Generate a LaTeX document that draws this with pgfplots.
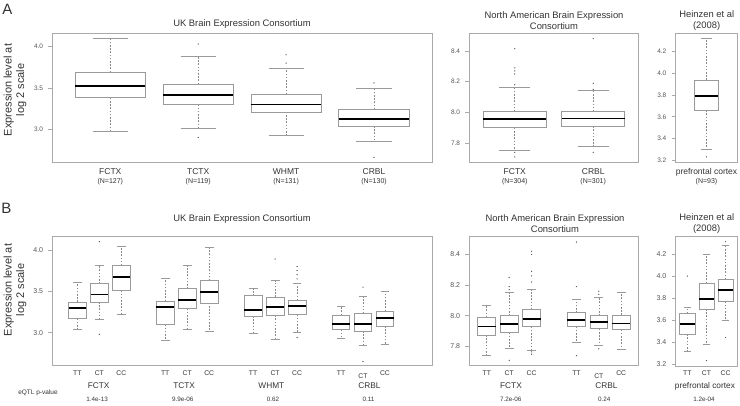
\documentclass[border=0pt]{standalone}
\usepackage{fontspec}
\setmainfont{Liberation Sans}
\usepackage{pgfplots}
\pgfplotsset{compat=1.18}
\usepgfplotslibrary{statistics}
\definecolor{framegray}{HTML}{AAAAAA}
\definecolor{boxgray}{HTML}{9A9A9A}
\definecolor{whiskgray}{HTML}{888888}
\definecolor{dotgray}{HTML}{505050}
\definecolor{txt}{HTML}{333333}
\definecolor{ticktxt}{HTML}{555555}
\newcommand{\fs}[1]{\fontsize{#1}{#1}\selectfont}
\tikzset{pv/.style={anchor=base, font=\fs{6.3}, text=txt, inner sep=0pt}}

\pgfplotsset{
  boxplot/draw/lower whisker/.code={%
    \draw[whiskgray, line width=0.6pt, dash pattern=on 1.6pt off 1.6pt]
      (boxplot box cs:\pgfplotsboxplotvalue{lower quartile},0.5) --
      (boxplot box cs:\pgfplotsboxplotvalue{lower whisker},0.5);
    \draw[boxgray, line width=0.7pt]
      (boxplot whisker cs:\pgfplotsboxplotvalue{lower whisker},0) --
      (boxplot whisker cs:\pgfplotsboxplotvalue{lower whisker},1);
  },
  boxplot/draw/upper whisker/.code={%
    \draw[whiskgray, line width=0.6pt, dash pattern=on 1.6pt off 1.6pt]
      (boxplot box cs:\pgfplotsboxplotvalue{upper quartile},0.5) --
      (boxplot box cs:\pgfplotsboxplotvalue{upper whisker},0.5);
    \draw[boxgray, line width=0.7pt]
      (boxplot whisker cs:\pgfplotsboxplotvalue{upper whisker},0) --
      (boxplot whisker cs:\pgfplotsboxplotvalue{upper whisker},1);
  },
  pan/.style={
    scale only axis, anchor=south west, clip=false,
    axis line style={framegray, line width=0.8pt},
    tick align=outside, major tick length=4pt,
    xtick pos=bottom, ytick pos=left,
    xtick style={draw=none},
    ytick style={framegray, line width=0.6pt},
    yticklabel style={text=ticktxt, inner sep=0pt, xshift=-5pt,
      /pgf/number format/fixed, /pgf/number format/fixed zerofill,
      /pgf/number format/precision=1, /pgf/number format/assume math mode=true},
    xticklabel style={text=txt, anchor=base, inner sep=0pt},
    extra x tick style={tick style={draw=none}},
    boxplot/draw direction=y,
    boxplot/box extend=0.8,
    boxplot/whisker extend=0.4,
    boxplot/every median/.style={black, line width=1.8pt},
  },
  panA/.style={pan, height=129pt,
    yticklabel style={font=\fs{6.5}},
    xticklabel style={font=\fs{8.5}}, xticklabel shift=8.5pt,
    extra x tick style={xticklabel style={font=\fs{7}, yshift=-8.7pt}}},
  panB/.style={pan, height=129pt,
    yticklabel style={font=\fs{7}},
    xticklabel style={font=\fs{6.8}}, xticklabel shift=5.9pt,
    extra x tick style={xticklabel style={font=\fs{8.3}, yshift=-12.9pt}}},
  bx/.style={boxgray, line width=0.7pt, mark=*, mark size=0.45pt,
    mark options={draw=dotgray, fill=dotgray, solid, line width=0.2pt}},
}

\begin{document}
\begin{tikzpicture}
\useasboundingbox (0,0) rectangle (740pt,405pt);

% ---------------- Row A ----------------
\node[font=\fs{15}, text=txt] at (7.5pt,395.8pt) {A};
\node[font=\fontsize{11}{12.5}\selectfont, text=txt, rotate=90, align=center] at (15pt,315pt) {Expression level at\\log 2 scale};
\node[font=\fs{9.4}, text=txt] at (242pt,381.3pt) {UK Brain Expression Consortium};
\node[font=\fontsize{9.4}{10.7}\selectfont, text=txt, align=center] at (554pt,384.3pt) {North American Brain Expression\\Consortium};
\node[font=\fontsize{9.4}{10.7}\selectfont, text=txt, align=center] at (706.7pt,384.7pt) {Heinzen et al\\(2008)};

\begin{axis}[panA, at={(52.3pt,242.7pt)}, width=379.7pt,
  xmin=0.34, xmax=4.66, ymin=2.60, ymax=4.16, ytick={3.0,3.5,4.0},
  xtick={1,2,3,4}, xticklabels={FCTX,TCTX,WHMT,CRBL},
  extra x ticks={1,2,3,4}, extra x tick labels={(N=127),(N=119),(N=131),(N=130)}]
\addplot[bx, boxplot prepared={draw position=1, lower whisker=2.98, lower quartile=3.38, median=3.52, upper quartile=3.69, upper whisker=4.10}] coordinates {};
\addplot[bx, boxplot prepared={draw position=2, lower whisker=3.01, lower quartile=3.30, median=3.41, upper quartile=3.545, upper whisker=3.88}] table[row sep=\\, y index=0] {data\\ 4.03\\ 2.90\\};
\addplot[bx, boxplot prepared={draw position=3, lower whisker=2.92, lower quartile=3.21, median=3.30, upper quartile=3.42, upper whisker=3.74}] table[row sep=\\, y index=0] {data\\ 3.90\\ 3.80\\};
\addplot[bx, boxplot prepared={draw position=4, lower whisker=2.85, lower quartile=3.04, median=3.12, upper quartile=3.24, upper whisker=3.50}] table[row sep=\\, y index=0] {data\\ 3.56\\ 2.66\\};
\end{axis}

\begin{axis}[panA, at={(469.3pt,242.7pt)}, width=169.4pt,
  xmin=0.42, xmax=2.58, ymin=7.675, ymax=8.515, ytick={7.8,8.0,8.2,8.4},
  xtick={1,2}, xticklabels={FCTX,CRBL},
  extra x ticks={1,2}, extra x tick labels={(N=304),(N=301)}]
\addplot[bx, boxplot prepared={draw position=1, lower whisker=7.75, lower quartile=7.90, median=7.955, upper quartile=8.005, upper whisker=8.16}] table[row sep=\\, y index=0] {data\\ 8.415\\ 8.29\\ 8.27\\ 8.25\\ 8.18\\ 7.74\\ 7.71\\};
\addplot[bx, boxplot prepared={draw position=2, lower whisker=7.78, lower quartile=7.91, median=7.96, upper quartile=8.005, upper whisker=8.145}] table[row sep=\\, y index=0] {data\\ 8.48\\ 8.19\\ 8.15\\ 7.74\\};
\end{axis}

\begin{axis}[panA, at={(675.5pt,242.7pt)}, width=62pt,
  xmin=0.46, xmax=1.54, ymin=3.18, ymax=4.37, ytick={3.2,3.4,3.6,3.8,4.0,4.2},
  boxplot/box extend=0.41, boxplot/whisker extend=0.2,
  xtick={1}, xticklabels={prefrontal cortex},
  extra x ticks={1}, extra x tick labels={(N=93)}]
\addplot[bx, boxplot prepared={draw position=1, lower whisker=3.30, lower quartile=3.66, median=3.79, upper quartile=3.94, upper whisker=4.32}] table[row sep=\\, y index=0] {data\\ 3.23\\};
\end{axis}

% ---------------- Row B ----------------
\node[font=\fs{15}, text=txt] at (6.5pt,196.3pt) {B};
\node[font=\fontsize{11}{12.5}\selectfont, text=txt, rotate=90, align=center] at (15pt,115pt) {Expression level at\\log 2 scale};
\node[font=\fs{9.4}, text=txt] at (242pt,186pt) {UK Brain Expression Consortium};
\node[font=\fontsize{9.4}{10.7}\selectfont, text=txt, align=center] at (555pt,181.3pt) {North American Brain Expression\\Consortium};
\node[font=\fontsize{9.4}{10.7}\selectfont, text=txt, align=center] at (706.7pt,181.2pt) {Heinzen et al\\(2008)};
\node[font=\fs{6.5}, text=txt] at (38pt,12pt) {eQTL p-value};

\begin{axis}[panB, at={(52.3pt,39.3pt)}, width=379.7pt,
  xmin=-0.14, xmax=17.14, ymin=2.60, ymax=4.16, ytick={3.0,3.5,4.0},
  xtick={1,2,3,5,6,7,9,10,11,13,14,15},
  xticklabels={TT,CT,CC,TT,CT,CC,TT,CT,CC,TT,\raisebox{-2.7pt}{CT},CC},
  extra x ticks={1.97,5.86,9.83,14.29}, extra x tick labels={FCTX,TCTX,WHMT,CRBL}]
\addplot[bx, boxplot prepared={draw position=1, lower whisker=3.04, lower quartile=3.17, median=3.30, upper quartile=3.37, upper whisker=3.61}] coordinates {};
\addplot[bx, boxplot prepared={draw position=2, lower whisker=3.16, lower quartile=3.37, median=3.46, upper quartile=3.59, upper whisker=3.81}] table[row sep=\\, y index=0] {data\\ 4.10\\ 2.98\\};
\addplot[bx, boxplot prepared={draw position=3, lower whisker=3.22, lower quartile=3.51, median=3.67, upper quartile=3.81, upper whisker=4.045}] coordinates {};
\addplot[bx, boxplot prepared={draw position=5, lower whisker=2.91, lower quartile=3.10, median=3.31, upper quartile=3.38, upper whisker=3.66}] coordinates {};
\addplot[bx, boxplot prepared={draw position=6, lower whisker=3.04, lower quartile=3.29, median=3.39, upper quartile=3.53, upper whisker=3.81}] coordinates {};
\addplot[bx, boxplot prepared={draw position=7, lower whisker=3.02, lower quartile=3.36, median=3.49, upper quartile=3.63, upper whisker=4.03}] coordinates {};
\addplot[bx, boxplot prepared={draw position=9, lower whisker=2.99, lower quartile=3.20, median=3.27, upper quartile=3.445, upper whisker=3.53}] coordinates {};
\addplot[bx, boxplot prepared={draw position=10, lower whisker=2.92, lower quartile=3.21, median=3.31, upper quartile=3.43, upper whisker=3.63}] table[row sep=\\, y index=0] {data\\ 3.89\\};
\addplot[bx, boxplot prepared={draw position=11, lower whisker=3.00, lower quartile=3.22, median=3.32, upper quartile=3.39, upper whisker=3.60}] table[row sep=\\, y index=0] {data\\ 3.80\\ 3.75\\ 3.70\\ 3.65\\ 2.94\\};
\addplot[bx, boxplot prepared={draw position=13, lower whisker=2.93, lower quartile=3.04, median=3.10, upper quartile=3.21, upper whisker=3.32}] coordinates {};
\addplot[bx, boxplot prepared={draw position=14, lower whisker=2.85, lower quartile=3.02, median=3.10, upper quartile=3.23, upper whisker=3.44}] table[row sep=\\, y index=0] {data\\ 3.55\\ 2.65\\};
\addplot[bx, boxplot prepared={draw position=15, lower whisker=2.86, lower quartile=3.08, median=3.18, upper quartile=3.26, upper whisker=3.50}] coordinates {};
\node[pv, yshift=-35.3pt] at (axis cs:1.9,2.60) {1.4e-13};
\node[pv, yshift=-35.3pt] at (axis cs:5.8,2.60) {9.9e-06};
\node[pv, yshift=-35.3pt] at (axis cs:9.9,2.60) {0.62};
\node[pv, yshift=-35.3pt] at (axis cs:14.25,2.60) {0.11};
\end{axis}

\begin{axis}[panB, at={(469.3pt,39.3pt)}, width=169.4pt,
  xmin=0.22, xmax=7.78, ymin=7.675, ymax=8.515, ytick={7.8,8.0,8.2,8.4},
  xtick={1,2,3,5,6,7},
  xticklabels={TT,CT,CC,TT,\raisebox{-2.7pt}{CT},CC},
  extra x ticks={2.08,6.34}, extra x tick labels={FCTX,CRBL}]
\addplot[bx, boxplot prepared={draw position=1, lower whisker=7.74, lower quartile=7.875, median=7.93, upper quartile=7.99, upper whisker=8.07}] coordinates {};
\addplot[bx, boxplot prepared={draw position=2, lower whisker=7.79, lower quartile=7.89, median=7.945, upper quartile=8.00, upper whisker=8.15}] table[row sep=\\, y index=0] {data\\ 8.25\\ 8.19\\ 8.17\\ 7.71\\};
\addplot[bx, boxplot prepared={draw position=3, lower whisker=7.775, lower quartile=7.93, median=7.98, upper quartile=8.04, upper whisker=8.17}] table[row sep=\\, y index=0] {data\\ 8.42\\ 8.40\\ 8.29\\ 8.26\\ 8.22\\ 7.765\\ 7.75\\};
\addplot[bx, boxplot prepared={draw position=5, lower whisker=7.83, lower quartile=7.93, median=7.97, upper quartile=8.02, upper whisker=8.11}] table[row sep=\\, y index=0] {data\\ 8.48\\ 8.19\\ 7.74\\};
\addplot[bx, boxplot prepared={draw position=6, lower whisker=7.81, lower quartile=7.915, median=7.96, upper quartile=8.00, upper whisker=8.12}] table[row sep=\\, y index=0] {data\\ 8.16\\ 8.14\\ 7.785\\};
\addplot[bx, boxplot prepared={draw position=7, lower whisker=7.78, lower quartile=7.91, median=7.95, upper quartile=8.005, upper whisker=8.15}] coordinates {};
\node[pv, yshift=-35.3pt] at (axis cs:2.07,7.675) {7.2e-06};
\node[pv, yshift=-35.3pt] at (axis cs:6.24,7.675) {0.24};
\end{axis}

\begin{axis}[panB, at={(675.5pt,39pt)}, width=62pt, height=129.3pt,
  xmin=0.38, xmax=3.62, ymin=3.18, ymax=4.36, ytick={3.2,3.4,3.6,3.8,4.0,4.2},
  xtick={1,2,3}, xticklabels={TT,CT,CC},
  extra x ticks={1.92}, extra x tick labels={prefrontal cortex}]
\addplot[bx, boxplot prepared={draw position=1, lower whisker=3.31, lower quartile=3.47, median=3.565, upper quartile=3.66, upper whisker=3.715}] table[row sep=\\, y index=0] {data\\ 4.00\\};
\addplot[bx, boxplot prepared={draw position=2, lower whisker=3.38, lower quartile=3.70, median=3.79, upper quartile=3.935, upper whisker=4.20}] table[row sep=\\, y index=0] {data\\ 3.23\\};
\addplot[bx, boxplot prepared={draw position=3, lower whisker=3.60, lower quartile=3.77, median=3.87, upper quartile=3.97, upper whisker=4.285}] table[row sep=\\, y index=0] {data\\ 4.315\\ 3.44\\};
\node[pv, yshift=-35.3pt] at (axis cs:1.87,3.18) {1.2e-04};
\end{axis}
\end{tikzpicture}
\end{document}
